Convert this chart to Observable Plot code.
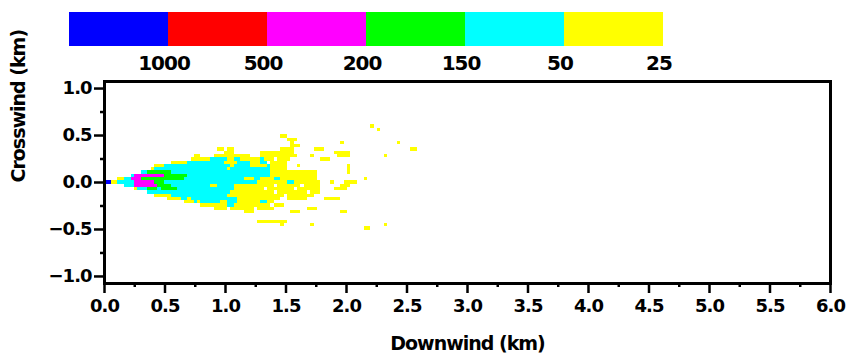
<!DOCTYPE html>
<html>
<head>
<meta charset="utf-8">
<script src="https://cdn.jsdelivr.net/npm/d3@7"></script>
<script src="https://cdn.jsdelivr.net/npm/@observablehq/plot@0.6"></script>
<style>
  html, body { margin: 0; padding: 0; background: #ffffff; }
  #chart svg { display: block; }
</style>
</head>
<body>
<div id="chart"></div>
<script>
// ---- data ----
const levels = [1000, 500, 200, 150, 50, 25];
const levelColors = ["#0000ff", "#ff0000", "#ff00ff", "#00ff00", "#00ffff", "#ffff00"];
const xTicks = [0, 0.5, 1, 1.5, 2, 2.5, 3, 3.5, 4, 4.5, 5, 5.5, 6];
const xMinorTicks = [0.25, 0.75, 1.25, 1.75, 2.25, 2.75, 3.25, 3.75, 4.25, 4.75, 5.25, 5.75];
const yTicks = [-1, -0.5, 0, 0.5, 1];
const yMinorTicks = [-0.75, -0.25, 0.25, 0.75];
const xTitle = "Downwind (km)";
const yTitle = "Crosswind (km)";

// grid cell size (km)
const cellWidthKm = 0.0275;
const cellHeightKm = 0.035;

const Y = 25, C = 50, G = 150, M = 200, R = 500, B = 1000;
// [row (crosswind index), first column, last column, concentration level]
const plumeRuns = [
  [17,80,80,Y],
  [16,82,82,Y],
  [14,53,54,Y],
  [13,55,57,Y],
  [12,56,56,Y],[12,71,71,Y],[12,88,88,Y],
  [11,56,58,Y],
  [10,34,35,Y],[10,37,38,Y],[10,53,56,Y],[10,63,65,Y],[10,92,93,Y],
  [9,36,38,Y],[9,47,56,Y],[9,69,73,Y],
  [8,27,28,Y],[8,33,43,Y],[8,47,57,Y],[8,62,62,Y],[8,70,73,Y],[8,84,84,Y],
  [7,26,31,Y],[7,32,36,C],[7,37,38,Y],[7,39,40,C],[7,41,46,Y],[7,47,47,C],[7,48,50,Y],[7,52,55,Y],[7,65,67,Y],
  [6,20,24,Y],[6,25,35,C],[6,36,39,Y],[6,40,43,C],[6,44,46,Y],[6,47,48,C],[6,50,54,Y],
  [5,15,17,Y],[5,18,37,C],[5,38,38,Y],[5,39,43,C],[5,44,48,Y],[5,49,49,C],[5,50,54,Y],[5,58,58,Y],[5,73,73,Y],
  [4,14,14,Y],[4,15,36,C],[4,37,37,Y],[4,38,49,C],[4,50,54,Y],[4,73,73,Y],
  [3,11,12,C],[3,13,19,G],[3,20,49,C],[3,50,63,Y],[3,73,73,Y],
  [2,8,8,C],[2,9,17,M],[2,18,24,G],[2,25,49,C],[2,50,63,Y],
  [1,4,5,Y],[1,6,7,C],[1,8,10,M],[1,11,23,G],[1,24,41,C],[1,42,44,Y],[1,45,46,C],[1,47,50,Y],[1,51,52,C],[1,53,63,Y],[1,78,78,Y],
  [0,0,1,B],[0,2,3,Y],[0,4,8,C],[0,9,14,M],[0,15,17,G],[0,18,45,C],[0,46,54,Y],[0,55,56,C],[0,57,64,Y],[0,68,68,Y],[0,72,75,Y],
  [-1,6,8,C],[-1,9,15,M],[-1,16,19,G],[-1,20,31,C],[-1,32,33,Y],[-1,34,38,C],[-1,39,50,Y],[-1,52,58,Y],[-1,60,64,Y],[-1,71,73,Y],
  [-2,9,9,Y],[-2,10,12,C],[-2,13,15,G],[-2,16,16,C],[-2,17,21,G],[-2,22,38,C],[-2,39,47,Y],[-2,49,56,Y],[-2,58,64,Y],[-2,69,72,Y],
  [-3,13,37,C],[-3,38,50,Y],[-3,52,60,Y],[-3,62,64,Y],
  [-4,15,19,Y],[-4,20,36,C],[-4,37,53,Y],[-4,55,62,Y],
  [-5,19,22,Y],[-5,23,24,C],[-5,25,25,Y],[-5,26,39,C],[-5,40,52,Y],[-5,55,60,Y],[-5,66,70,Y],
  [-6,24,26,Y],[-6,27,27,C],[-6,28,28,Y],[-6,29,34,C],[-6,35,36,Y],[-6,37,39,C],[-6,40,46,Y],[-6,47,48,C],[-6,49,50,Y],
  [-7,29,36,Y],[-7,37,38,C],[-7,39,49,Y],[-7,51,53,Y],
  [-8,33,36,Y],[-8,38,44,Y],[-8,46,50,Y],[-8,61,63,Y],
  [-9,42,44,Y],[-9,56,58,Y],[-9,71,72,Y],
  [-12,46,54,Y],
  [-13,53,53,Y],[-13,62,62,Y],[-13,84,84,Y],
  [-14,78,79,Y]
];

// ---- build ----
const cells = plumeRuns.map(([row, c0, c1, level]) => ({
  x1: c0 * cellWidthKm,
  x2: (c1 + 1) * cellWidthKm,
  y1: (row - 0.5) * cellHeightKm,
  y2: (row + 0.5) * cellHeightKm,
  level
}));

const font = '"DejaVu Sans", sans-serif';
const colorScale = {type: "ordinal", domain: levels, range: levelColors};

const legend = Plot.plot({
  width: 846,
  height: 78,
  marginTop: 12,
  marginBottom: 32,
  marginLeft: 67,
  marginRight: 182,
  style: {background: "#ffffff", color: "#000000", fontFamily: font, fontWeight: "bold", letterSpacing: "-1px", overflow: "visible"},
  x: {type: "band", domain: levels, padding: 0, axis: null},
  color: colorScale,
  marks: [
    Plot.cell(levels, {x: d => d, fill: d => d, inset: 0, shapeRendering: "crispEdges"}),
    Plot.text(levels, {
      x: d => d, text: d => String(d),
      frameAnchor: "bottom", lineAnchor: "middle", dy: 17, dx: 45,
      fontSize: 20, fontWeight: "bold", fill: "#000000"
    })
  ]
});

const main = Plot.plot({
  width: 846,
  height: 276,
  marginTop: 3,
  marginBottom: 71,
  marginLeft: 104,
  marginRight: 16,
  style: {background: "#ffffff", color: "#000000", fontFamily: font, fontWeight: "bold", letterSpacing: "-1px", overflow: "visible"},
  x: {domain: [0, 6]},
  y: {domain: [-1.075, 1.075]},
  color: colorScale,
  marks: [
    Plot.rect(cells, {x1: "x1", x2: "x2", y1: "y1", y2: "y2", fill: "level", shapeRendering: "crispEdges"}),
    Plot.axisX(xMinorTicks, {tickSize: 4, strokeWidth: 2.5, tickFormat: () => "", label: null}),
    Plot.axisX(xTicks, {tickSize: 10, strokeWidth: 2.5, tickPadding: 6, tickFormat: ".1f", fontSize: 18, label: null}),
    Plot.axisY(yMinorTicks, {tickSize: 4, strokeWidth: 2.5, tickFormat: () => "", label: null}),
    Plot.axisY(yTicks, {tickSize: 10, strokeWidth: 2.5, tickPadding: 3, tickFormat: ".1f", fontSize: 18, label: null}),
    Plot.frame({stroke: "#000000", strokeWidth: 3}),
    Plot.text([xTitle], {text: d => d, frameAnchor: "bottom", lineAnchor: "middle", dy: 60,
      fontSize: 19, fontWeight: "bold", fill: "#000000"}),
    Plot.text([yTitle], {text: d => d, frameAnchor: "left", lineAnchor: "middle", rotate: -90, dx: -86,
      fontSize: 19, fontWeight: "bold", fill: "#000000"})
  ]
});

const root = document.getElementById("chart");
root.appendChild(legend);
root.appendChild(main);
</script>
</body>
</html>
